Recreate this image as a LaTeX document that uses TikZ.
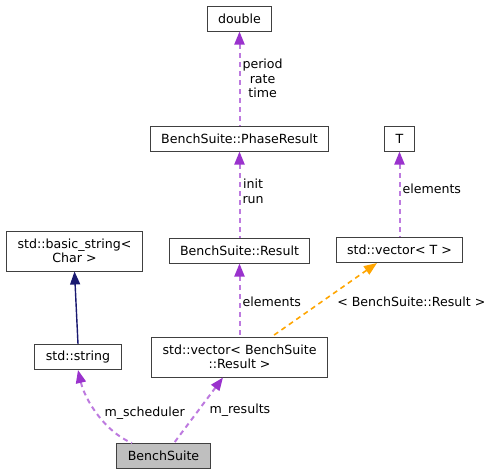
\documentclass[tikz,border=0pt]{standalone}
\usepackage{fontspec}
\setmainfont{DejaVu Sans}
\usetikzlibrary{arrows.meta}

\definecolor{usecol}{HTML}{9A32CD}
\definecolor{tmplcol}{HTML}{FFA500}
\definecolor{inhcol}{HTML}{191970}
\definecolor{maincol}{HTML}{BFBFBF}

\tikzset{
	>={Triangle[length=13pt,width=10pt]},
	cls/.style={draw=black!75,line width=1pt,fill=white,minimum height=25pt,
		inner xsep=11pt,inner ysep=0pt,align=center,
		font=\fontsize{12.6}{14}\selectfont},
	lbl/.style={inner sep=2pt,align=center,text=black,font=\fontsize{12.6}{14.5}\selectfont},
	usage/.style={{Triangle[length=13pt,width=10pt,color=usecol]}-,draw=usecol!65,line width=2pt,dash pattern=on 5pt off 4pt},
	tmpl/.style={<-,color=tmplcol,line width=1.6pt,dash pattern=on 5pt off 4pt},
	inh/.style={<-,color=inhcol,line width=1.4pt}
}

\begin{document}
\begin{tikzpicture}[x=1pt,y=-1pt]
	\useasboundingbox (0,0) rectangle (493,475);

	\node[cls] (double) at (239.5,18.5) {double};
	\node[cls] (phase) at (239.5,138.5) {BenchSuite::PhaseResult};
	\node[cls] (T) at (399.5,138.5) {T};
	\node[cls,minimum height=40pt] (bstring) at (74.5,251) {std::basic\_string<\\Char >};
	\node[cls] (result) at (239.5,250.5) {BenchSuite::Result};
	\node[cls] (vecT) at (399.5,250) {std::vector< T >};
	\node[cls] (string) at (78,357) {std::string};
	\node[cls,minimum height=40pt] (vecres) at (239.5,357) {std::vector< BenchSuite\\::Result >};
	\node[cls,fill=maincol] (bench) at (163.5,456) {BenchSuite};

	\draw[usage] (double.south) -- node[lbl,right] (lperiod) {period\\rate\\time} (phase.north);
	\draw[usage] (phase.south) -- node[lbl,right,yshift=3pt] (linit) {init\\run} (result.north);
	\draw[usage] (T.south) -- node[lbl,right,yshift=5pt] (lelemT) {elements} (vecT.north);

	\draw[inh] (bstring.south) -- (string.north);

	\draw[usage] (result.south) -- node[lbl,right,yshift=-2pt] (lelemres) {elements} (vecres.north);
	\draw[tmpl] ([xshift=-22.5pt]vecT.south) -- node[lbl,right=10pt,yshift=-2pt] (lbind) {< BenchSuite::Result >} ([xshift=32.5pt]vecres.north);

	\draw[usage] (string.south) .. controls (85,400) and (105,432) .. node[lbl,right=4pt] (lsched) {m\_scheduler} ([xshift=-31.5pt]bench.north);
	\draw[usage] ([xshift=-16.5pt]vecres.south) -- node[lbl,right=8pt] (lres) {m\_results} ([xshift=10.5pt]bench.north);

\end{tikzpicture}
\end{document}
